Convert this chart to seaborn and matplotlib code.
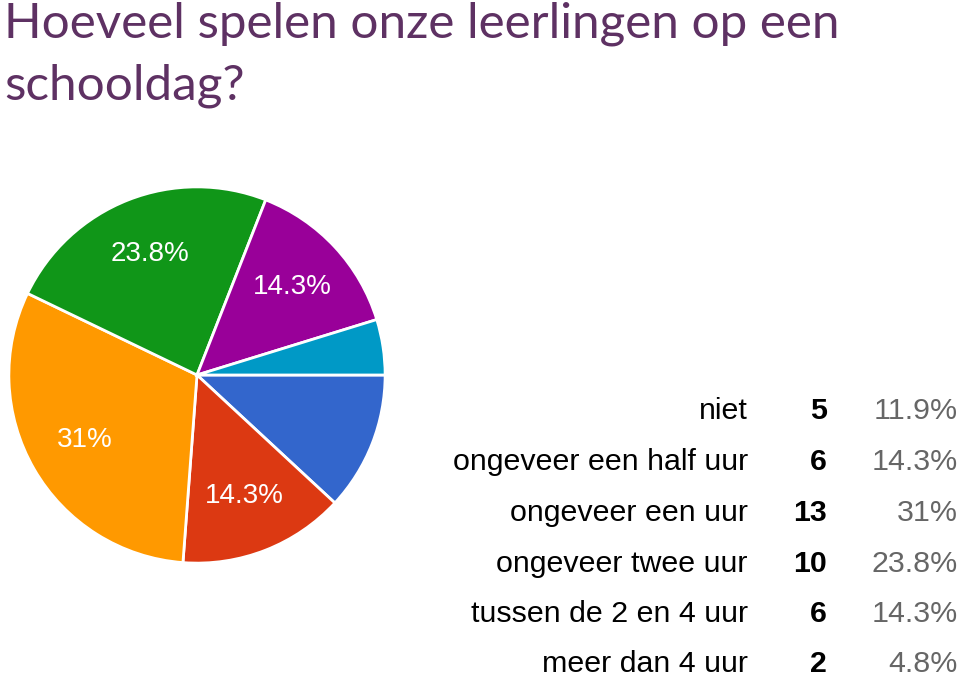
"""Pie chart: how much do our pupils play on a school day."""

import matplotlib

matplotlib.use("Agg")

import matplotlib.pyplot as plt
import seaborn as sns

# Survey answers (clockwise from 3 o'clock)
categories = [
    "niet",
    "ongeveer een half uur",
    "ongeveer een uur",
    "ongeveer twee uur",
    "tussen de 2 en 4 uur",
    "meer dan 4 uur",
]
counts = [5, 6, 13, 10, 6, 2]
colors = ["#3366cc", "#dc3912", "#ff9900", "#109618", "#990099", "#0099c6"]

title = "Hoeveel spelen onze leerlingen op een\nschooldag?"

sns.set_theme(style="white")
plt.rcParams["font.family"] = ["Liberation Sans", "DejaVu Sans"]

total = sum(counts)


def fmt_pct(p):
    s = f"{p:.1f}".rstrip("0").rstrip(".")
    return s + "%"


fig = plt.figure(figsize=(9.6, 6.79), dpi=100)
W, H = 960, 679

# Pie axes placed in pixel space
cx, cy, r = 197, 375, 190
ax = fig.add_axes([(cx - r) / W, (H - cy - r) / H, 2 * r / W, 2 * r / H])
wedges, _, autotexts = ax.pie(
    counts,
    colors=colors,
    startangle=0,
    counterclock=False,
    autopct=lambda p: fmt_pct(p) if p >= 13 else "",
    pctdistance=0.69,
    wedgeprops={"edgecolor": "white", "linewidth": 2},
    textprops={"color": "white", "fontsize": 20},
)
ax.set_aspect("equal")
ax.set_xlim(-1.01, 1.01)
ax.set_ylim(-1.01, 1.01)
ax.axis("off")

# Overlay in pixel coordinates for title and table
ov = fig.add_axes([0, 0, 1, 1])
ov.set_xlim(0, W)
ov.set_ylim(H, 0)
ov.axis("off")

ov.text(
    4, 2, title, ha="left", va="top", fontsize=35.6, color="#5e3163",
    family=["Lato", "DejaVu Sans"], linespacing=1.48,
)

row_y = [411, 462, 513, 564, 614, 664]
for y, cat, n in zip(row_y, categories, counts):
    ov.text(748, y, cat, ha="right", va="center", fontsize=21.9, color="black")
    ov.text(827, y, str(n), ha="right", va="center", fontsize=21.9,
            color="black", fontweight="bold")
    ov.text(958, y, fmt_pct(100 * n / total), ha="right", va="center",
            fontsize=21.9, color="#666666")

fig.savefig("out.png", dpi=100)
plt.close(fig)
